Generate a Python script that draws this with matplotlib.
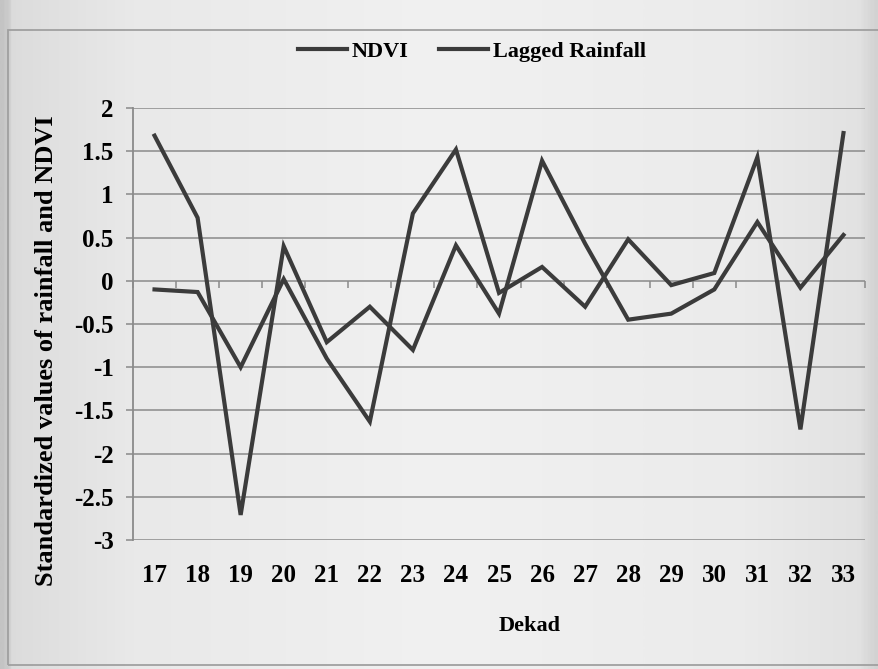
import numpy as np
import matplotlib
matplotlib.use("Agg")
import matplotlib.pyplot as plt
from matplotlib.colors import LinearSegmentedColormap
from matplotlib.patches import Rectangle

# Dekads on the x axis and the two standardized series
dekads = [17, 18, 19, 20, 21, 22, 23, 24, 25, 26, 27, 28, 29, 30, 31, 32, 33]
ndvi = [1.68, 0.73, -2.71, 0.40, -0.71, -0.30, -0.80, 0.41, -0.38, 1.39,
        0.43, -0.45, -0.38, -0.10, 0.68, -0.08, 0.53]
lagged_rainfall = [-0.10, -0.13, -1.00, 0.02, -0.90, -1.63, 0.78, 1.52, -0.14, 0.16,
                   -0.30, 0.48, -0.05, 0.09, 1.43, -1.72, 1.71]
y_ticks = [2, 1.5, 1, 0.5, 0, -0.5, -1, -1.5, -2, -2.5, -3]
y_tick_labels = ["2", "1.5", "1", "0.5", "0", "-0.5", "-1", "-1.5", "-2", "-2.5", "-3"]

plt.rcParams["font.family"] = ["Liberation Serif", "DejaVu Serif"]
plt.rcParams["font.weight"] = "bold"

W, H = 879, 669
fig = plt.figure(figsize=(W / 100, H / 100), dpi=100)

# paper-like background shading
bg = fig.add_axes([0, 0, 1, 1], zorder=-10)
paper = LinearSegmentedColormap.from_list(
    "paper", [(0.0, "#c4c4c4"), (0.008, "#cfcfcf"), (0.012, "#dcdcdc"),
              (0.15, "#e9e9e9"), (0.5, "#f1f1f1"), (0.85, "#ebebeb"),
              (0.98, "#e2e2e2"), (1.0, "#d2d2d2")])
bg.imshow(np.linspace(0, 1, 400)[None, :], cmap=paper, aspect="auto",
          extent=[0, 1, 0, 1])
bg.set_xlim(0, 1)
bg.set_ylim(0, 1)
bg.axis("off")

# chart border
fig.patches.append(Rectangle((8 / W, 4 / H), 1.2, 1 - 30 / H - 4 / H,
                             transform=fig.transFigure, fill=False,
                             edgecolor="#a0a0a0", linewidth=1.3, zorder=-5))

left, right, top, bottom = 133, 865, 108, 540
ax = fig.add_axes([left / W, 1 - bottom / H, (right - left) / W, (bottom - top) / H])
ax.patch.set_alpha(0)

line_color = "#3b3b3b"
ax.plot(dekads, ndvi, color=line_color, linewidth=3.0, label="NDVI",
        solid_joinstyle="miter", zorder=3)
ax.plot(dekads, lagged_rainfall, color=line_color, linewidth=3.0,
        label="Lagged Rainfall", solid_joinstyle="miter", zorder=3)

ax.set_xlim(dekads[0] - 0.5, dekads[-1] + 0.5)
ax.set_ylim(-3, 2)
ax.set_yticks(y_ticks)
ax.set_yticklabels(y_tick_labels)
ax.set_xticks(dekads)
ax.set_xticklabels([str(d) for d in dekads])

grid_color = "#8a8a8a"
ax.grid(axis="y", color=grid_color, linewidth=1.1)
ax.set_axisbelow(True)
for s in ["top", "right", "bottom"]:
    ax.spines[s].set_visible(False)
ax.spines["left"].set_color(grid_color)
ax.spines["left"].set_linewidth(1.3)

ax.tick_params(axis="y", length=5, width=1.1, color=grid_color, pad=9,
               labelsize=18)
ax.tick_params(axis="x", length=0, pad=17, labelsize=18)

# category-boundary tick marks hanging below the zero line
zero_axis = ax.secondary_xaxis(3 / 5)
zero_axis.set_xticks(np.arange(dekads[0] - 0.5, dekads[-1] + 1, 1.0))
zero_axis.set_xticklabels([])
zero_axis.xaxis.set_ticks_position("bottom")
zero_axis.tick_params(length=5, width=1.1, color=grid_color, direction="out",
                      labelbottom=False, labeltop=False)
for s in zero_axis.spines.values():
    s.set_visible(False)

ax.set_ylabel("Standardized values of rainfall and NDVI", fontsize=19,
              fontweight="bold")
ax.yaxis.set_label_coords((58 - left) / (right - left), (bottom - 351) / (bottom - top))
ax.set_xlabel("Dekad", fontsize=16, fontweight="bold")
ax.xaxis.set_label_coords((530 - left) / (right - left), -(616 - bottom) / (bottom - top))

fig.legend(loc="center", bbox_to_anchor=(472 / W, 1 - 52 / H), ncol=2,
           frameon=False, handlelength=2.2, handletextpad=0.2,
           columnspacing=1.4, prop={"weight": "bold", "size": 16})

fig.savefig("out.png", dpi=100)
